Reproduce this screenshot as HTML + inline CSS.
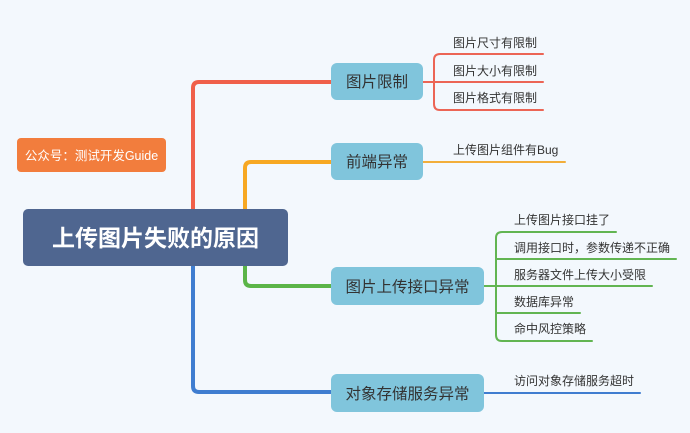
<!DOCTYPE html>
<html><head><meta charset="utf-8"><style>
html,body{margin:0;padding:0;background:#f3f8fd;}
svg{display:block;}
text{font-family:"Liberation Sans","Noto Sans CJK SC",sans-serif;}
</style></head><body>
<svg width="690" height="433" viewBox="0 0 690 433" xmlns="http://www.w3.org/2000/svg">
<rect width="690" height="433" fill="#f3f8fd"/>
<g fill="none" stroke-linecap="round">
<!-- trunk -->
<path d="M193 212 V88 Q193 82 199 82 H332" stroke="#f0604a" stroke-width="4"/>
<path d="M199 82 H332" stroke="#f0604a" stroke-width="2"/>
<path d="M245 212 V168 Q245 162 251 162 H332" stroke="#f7a823" stroke-width="4"/>
<path d="M251 162 H332" stroke="#f7a823" stroke-width="2"/>
<path d="M245 262 V280 Q245 286 251 286 H332" stroke="#5bb548" stroke-width="4"/>
<path d="M251 286 H332" stroke="#5bb548" stroke-width="2"/>
<path d="M193 262 V386 Q193 392 199 392 H332" stroke="#3f7dd0" stroke-width="4"/>
<path d="M199 392 H332" stroke="#3f7dd0" stroke-width="2"/>
<!-- red subs -->
<g stroke="#ec6555" stroke-width="2">
<path d="M423 82 H543"/>
<path d="M543 54 H440 Q434 54 434 60 V104 Q434 110 440 110 H543"/>
</g>
<path d="M423 162 H565" stroke="#f2ae3a" stroke-width="2"/>
<g stroke="#62b552" stroke-width="2">
<path d="M484 286 H652"/>
<path d="M616 232 H502 Q496 232 496 238 V335 Q496 341 502 341 H592"/>
<path d="M496 259 H676"/>
<path d="M496 313 H580"/>
</g>
<path d="M484 393 H640" stroke="#3f7dd0" stroke-width="2"/>
</g>
<!-- central -->
<rect x="23" y="209" width="265" height="57" rx="5" fill="#4f6690"/>
<text x="155.5" y="246" font-size="23" font-weight="bold" fill="#fff" text-anchor="middle">上传图片失败的原因</text>
<rect x="17" y="138" width="149" height="34" rx="4" fill="#f27d3d"/>
<text x="91.5" y="160" font-size="12.5" fill="#fff" text-anchor="middle">公众号：测试开发Guide</text>
<!-- L1 -->
<g fill="#80c5dc">
<rect x="331" y="63" width="92" height="37" rx="6"/>
<rect x="331" y="143" width="92" height="37" rx="6"/>
<rect x="331" y="267" width="153" height="38" rx="6"/>
<rect x="331" y="374" width="153" height="38" rx="6"/>
</g>
<g font-size="15.5" fill="#333" text-anchor="middle">
<text x="377" y="87">图片限制</text>
<text x="377" y="167">前端异常</text>
<text x="407.5" y="292">图片上传接口异常</text>
<text x="407.5" y="399">对象存储服务异常</text>
</g>
<g font-size="12" fill="#333">
<text x="453" y="47">图片尺寸有限制</text>
<text x="453" y="75">图片大小有限制</text>
<text x="453" y="102">图片格式有限制</text>
<text x="453" y="154">上传图片组件有Bug</text>
<text x="514" y="224">上传图片接口挂了</text>
<text x="514" y="252">调用接口时，参数传递不正确</text>
<text x="514" y="279">服务器文件上传大小受限</text>
<text x="514" y="306">数据库异常</text>
<text x="514" y="333">命中风控策略</text>
<text x="514" y="385">访问对象存储服务超时</text>
</g>
</svg>
</body></html>
